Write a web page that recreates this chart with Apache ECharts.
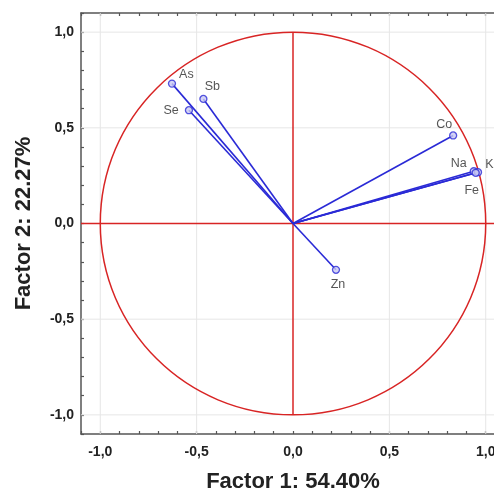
<!DOCTYPE html>
<html>
<head>
<meta charset="utf-8">
<script src="https://cdn.jsdelivr.net/npm/echarts@6/dist/echarts.min.js"></script>
<style>html,body{margin:0;padding:0;background:#fff}#chart{width:494px;height:492px}</style>
</head>
<body>
<div id="chart"></div>
<script>
// ---- data ----
const variables = ['As', 'Sb', 'Se', 'Co', 'Na', 'K', 'Fe', 'Zn'];
const factor1 = [-0.628, -0.465, -0.540, 0.831, 0.938, 0.960, 0.948, 0.223];
const factor2 = [0.731, 0.651, 0.592, 0.460, 0.273, 0.268, 0.265, -0.242];
const axisMin = -1.1;
const axisMax = 1.1;
const tickStep = 0.1;
const gridValues = [-1, -0.5, 0.5, 1];
const xTitle = 'Factor 1: 54.40%';
const yTitle = 'Factor 2: 22.27%';

// ---- label placement (style only) ----
const labelPlace = {
  As: {position: 'right', distance: 3, offset: [0, -9]},
  Sb: {position: 'top', distance: 5, offset: [9, 3]},
  Se: {position: 'left', distance: 5, offset: [-1, 0]},
  Co: {position: 'top', distance: 5, offset: [-9, 5]},
  Na: {position: 'left', distance: 3, offset: [0, -8]},
  K:  {position: 'right', distance: 3, offset: [0, -8]},
  Fe: {position: 'bottom', distance: 5, offset: [-4, 2]},
  Zn: {position: 'bottom', distance: 5, offset: [2, -1]}
};

const FONT = '"Liberation Sans", Arial, Helvetica, sans-serif';
const BLUE = '#2a2ad6';
const RED = '#d82424';
const FRAME = '#555555';

function fmt(v) {
  if (Math.abs(v * 2 - Math.round(v * 2)) > 1e-6) return '';
  let s = (Math.round(v * 10) / 10).toFixed(1);
  if (s === '-0.0') s = '0.0';
  return s.replace('.', ',');
}

const axisCommon = {
  type: 'value', min: axisMin, max: axisMax, interval: tickStep,
  splitLine: {show: false},
  axisLine: {show: true, onZero: false, lineStyle: {color: FRAME, width: 1.5}},
  axisTick: {show: true, inside: true, length: 3, lineStyle: {color: FRAME, width: 1.2}}
};

const chart = echarts.init(document.getElementById('chart'), null, {renderer: 'canvas'});

const series = [];

// light grid lines + red unit circle and cross
series.push({
  type: 'custom', z: 1, silent: true, clip: false,
  data: [[0, 0]],
  renderItem: function (params, api) {
    const children = [];
    const gst = {stroke: '#e6e6e6', fill: null, lineWidth: 1};
    gridValues.forEach(v => {
      const a = api.coord([v, axisMin]);
      const b = api.coord([v, axisMax]);
      children.push({type: 'line', shape: {x1: a[0], y1: a[1], x2: b[0], y2: b[1]}, style: gst});
      const c1 = api.coord([axisMin, v]);
      const d1 = api.coord([axisMax, v]);
      children.push({type: 'line', shape: {x1: c1[0], y1: c1[1], x2: d1[0], y2: d1[1]}, style: gst});
    });
    const c = api.coord([0, 0]);
    const s = api.size([1, 1]);
    const hl = api.coord([axisMin, 0]);
    const hr = api.coord([axisMax, 0]);
    const vt = api.coord([0, 1]);
    const vb = api.coord([0, -1]);
    const st = {stroke: RED, fill: null, lineWidth: 1.5};
    children.push({type: 'ellipse', shape: {cx: c[0], cy: c[1], rx: s[0], ry: s[1]}, style: st});
    children.push({type: 'line', shape: {x1: hl[0], y1: hl[1], x2: hr[0], y2: hr[1]}, style: st});
    children.push({type: 'line', shape: {x1: vt[0], y1: vt[1], x2: vb[0], y2: vb[1]}, style: st});
    return {type: 'group', children: children};
  }
});

// vectors from origin
variables.forEach((name, i) => {
  series.push({
    type: 'line', z: 3, silent: true, symbol: 'none',
    lineStyle: {color: BLUE, width: 1.6},
    data: [[0, 0], [factor1[i], factor2[i]]]
  });
});

// endpoints with labels
series.push({
  type: 'scatter', z: 4, symbol: 'circle', symbolSize: 7,
  itemStyle: {color: '#c9c9f2', borderColor: BLUE, borderWidth: 1.3},
  data: variables.map((name, i) => ({
    name: name,
    value: [factor1[i], factor2[i]],
    label: Object.assign({show: true, formatter: name}, labelPlace[name])
  })),
  label: {show: true, color: '#2a2a2a', fontSize: 12.5, fontFamily: FONT}
});

chart.setOption({
  animation: false,
  backgroundColor: '#ffffff',
  grid: {left: 81, top: 13, right: -11, bottom: 58, containLabel: false, outerBoundsMode: 'none'},
  xAxis: [
    Object.assign({}, axisCommon, {
      position: 'bottom',
      name: xTitle, nameLocation: 'middle', nameGap: 37,
      nameTextStyle: {fontFamily: FONT, fontSize: 22, fontWeight: 'bold', color: '#222'},
      axisLabel: {show: true, formatter: fmt, margin: 11, fontFamily: FONT, fontSize: 14, fontWeight: 'bold', color: '#222', hideOverlap: false}
    }),
    Object.assign({}, axisCommon, {position: 'top', axisLabel: {show: false}})
  ],
  yAxis: [
    Object.assign({}, axisCommon, {
      position: 'left',
      name: yTitle, nameLocation: 'middle', nameGap: 46, nameRotate: 90,
      nameTextStyle: {fontFamily: FONT, fontSize: 22, fontWeight: 'bold', color: '#222'},
      axisLabel: {show: true, formatter: fmt, margin: 7, fontFamily: FONT, fontSize: 14, fontWeight: 'bold', color: '#222', hideOverlap: false}
    })
  ],
  series: series
});
</script>
</body>
</html>
